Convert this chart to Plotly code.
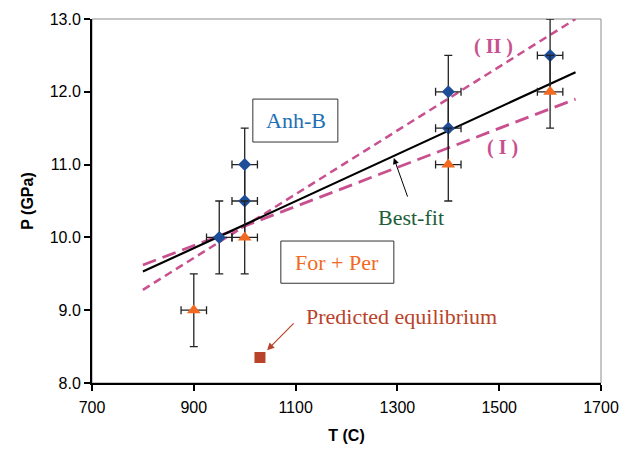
import plotly.graph_objects as go

# Anh-B (blue diamonds)
anh_T = [950, 1000, 1000, 1400, 1400, 1600]
anh_P = [10.0, 10.5, 11.0, 11.5, 12.0, 12.5]
# For + Per (orange triangles)
fp_T = [900, 1000, 1400, 1600]
fp_P = [9.0, 10.0, 11.0, 12.0]
# error bars
err_T = 25
err_P = 0.5
# predicted equilibrium
pred_T = [1030]
pred_P = [8.35]
# lines
fit_T = [800, 1650]
fit_P = [9.53, 12.27]
lineI_T = [800, 1650]
lineI_P = [9.62, 11.9]
lineII_T = [800, 1650]
lineII_P = [9.28, 13.0]

x_ticks = [700, 900, 1100, 1300, 1500, 1700]
y_ticks = [8.0, 9.0, 10.0, 11.0, 12.0, 13.0]

PINK = "#c9508f"
SERIF = "Liberation Serif, Times New Roman, serif"
SANS = "Liberation Sans, Arial, sans-serif"

fig = go.Figure()

fig.add_trace(go.Scatter(x=lineII_T, y=lineII_P, mode="lines",
                         line=dict(color=PINK, width=2.5, dash="8px,5px")))
fig.add_trace(go.Scatter(x=lineI_T, y=lineI_P, mode="lines",
                         line=dict(color=PINK, width=2.8, dash="14px,7px")))
fig.add_trace(go.Scatter(x=fit_T, y=fit_P, mode="lines",
                         line=dict(color="black", width=2.2)))

fig.add_trace(go.Scatter(
    x=anh_T, y=anh_P, mode="markers",
    marker=dict(symbol="diamond", size=10, color="#1f4e99"),
    error_y=dict(type="constant", value=err_P, color="#222222", thickness=1.3, width=4),
    error_x=dict(type="constant", value=err_T, color="#222222", thickness=1.3, width=4),
))
fig.add_trace(go.Scatter(
    x=fp_T, y=fp_P, mode="markers",
    marker=dict(symbol="triangle-up", size=12, color="#f26a21"),
    error_y=dict(type="constant", value=err_P, color="#222222", thickness=1.3, width=4),
    error_x=dict(type="constant", value=err_T, color="#222222", thickness=1.3, width=4),
))
fig.add_trace(go.Scatter(
    x=pred_T, y=pred_P, mode="markers",
    marker=dict(symbol="square", size=11, color="#b8432a"),
))

# plot frame (gray)
fig.add_shape(type="rect", xref="paper", yref="paper", x0=0, x1=1, y0=0, y1=1,
              line=dict(color="#8c8c8c", width=1), layer="below")
# label boxes
fig.add_shape(type="rect", x0=1016, x1=1183, y0=11.31, y1=11.90,
              line=dict(color="#333333", width=1), fillcolor="white", layer="above")
fig.add_shape(type="rect", x0=1071, x1=1293, y0=9.37, y1=9.95,
              line=dict(color="#333333", width=1), fillcolor="white", layer="above")

ann = [
    dict(x=1100, y=11.6, text="Anh-B", showarrow=False,
         font=dict(family=SERIF, size=22, color="#1f6fb4")),
    dict(x=1182, y=9.66, text="For + Per", showarrow=False,
         font=dict(family=SERIF, size=22, color="#f26a21")),
    dict(x=1327, y=10.28, text="Best-fit", showarrow=False,
         font=dict(family=SERIF, size=22, color="#1e5e3a")),
    dict(x=1293, y=11.09, ax=1321, ay=10.54, axref="x", ayref="y", text="",
         showarrow=True, arrowhead=2, arrowsize=1.2, arrowwidth=1, arrowcolor="black"),
    dict(x=1309, y=8.92, text="Predicted equilibrium", showarrow=False,
         font=dict(family=SERIF, size=22, color="#b8432a")),
    dict(x=1044, y=8.45, ax=1099, ay=8.84, axref="x", ayref="y", text="",
         showarrow=True, arrowhead=2, arrowsize=1.2, arrowwidth=1.2, arrowcolor="#b8432a"),
    dict(x=1488, y=12.62, text="<b>( II )</b>", showarrow=False,
         font=dict(family=SERIF, size=20, color=PINK)),
    dict(x=1507, y=11.24, text="<b>( I )</b>", showarrow=False,
         font=dict(family=SERIF, size=20, color=PINK)),
]
fig.update_layout(annotations=ann)

fig.update_layout(
    width=624, height=451,
    margin=dict(l=92, r=23, t=19, b=68),
    plot_bgcolor="white", paper_bgcolor="white",
    showlegend=False,
    font=dict(family=SANS, size=16, color="black"),
)
fig.update_xaxes(range=[700, 1700], tickvals=x_ticks, ticktext=[str(v) for v in x_ticks],
                 automargin=False,
                 showgrid=False, zeroline=False, showline=True, linecolor="black", linewidth=2,
                 ticks="outside", ticklen=6, tickwidth=1.5, tickcolor="black",
                 tickfont=dict(size=16), ticklabelstandoff=3,
                 title=dict(text="<b>T (C)</b>", font=dict(size=16), standoff=15))
fig.update_yaxes(range=[8.0, 13.0], tickvals=y_ticks, ticktext=[f"{v:.1f}" for v in y_ticks],
                 automargin=False,
                 showgrid=False, zeroline=False, showline=True, linecolor="black", linewidth=2,
                 ticks="outside", ticklen=6, tickwidth=1.5, tickcolor="black",
                 tickfont=dict(size=16),
                 title=dict(text="<b>P (GPa)</b>", font=dict(size=16), standoff=12))

fig.write_html("out.html", config={"displayModeBar": False},
               post_script="document.body.style.margin='0';document.body.style.padding='0';")
